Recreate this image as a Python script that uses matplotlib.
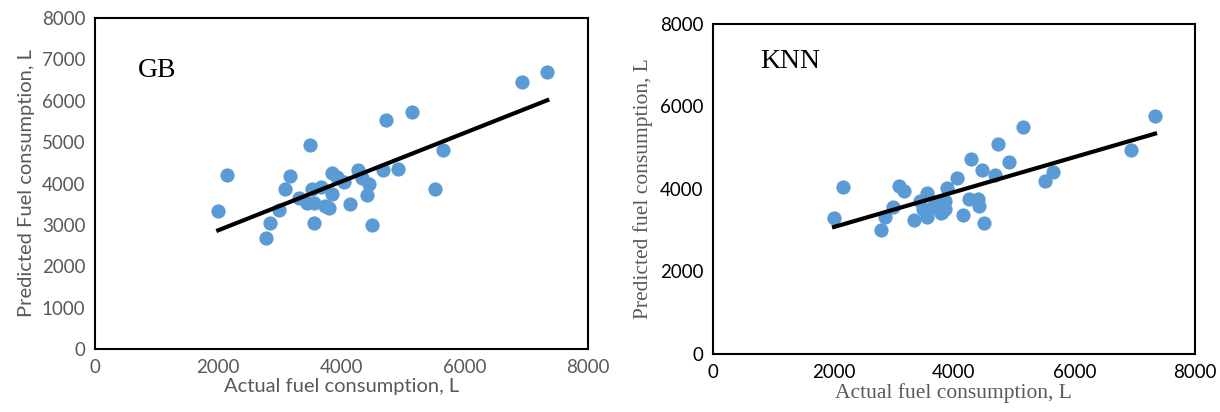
import numpy as np
import matplotlib.pyplot as plt

# Actual vs predicted fuel consumption, L
gb_actual = [2000, 2140, 2780, 2845, 2980, 3090, 3160, 3310, 3440, 3490, 3520,
             3550, 3560, 3670, 3730, 3800, 3840, 3845, 3920, 4045, 4140, 4270,
             4325, 4410, 4450, 4500, 4680, 4720, 4910, 5145, 5515, 5640, 6935, 7340]
gb_pred = [3340, 4200, 2690, 3050, 3360, 3860, 4180, 3640, 3520, 4930, 3880,
           3520, 3050, 3920, 3450, 3400, 3750, 4260, 4160, 4035, 3505, 4320,
           4140, 3720, 4000, 2990, 4330, 5530, 4340, 5740, 3860, 4800, 6460, 6700]

knn_actual = [2010, 2160, 2790, 2850, 2985, 3095, 3175, 3330, 3440, 3480, 3550,
              3560, 3650, 3690, 3785, 3800, 3855, 3860, 3880, 4050, 4150, 4255,
              4285, 4400, 4415, 4460, 4505, 4675, 4724, 4915, 5145, 5518, 5640,
              6943, 7339]
knn_pred = [3285, 4035, 3006, 3329, 3556, 4060, 3945, 3255, 3710, 3505, 3911,
            3310, 3570, 3693, 3420, 3450, 3700, 3520, 4016, 4265, 3370, 3755,
            4715, 3755, 3590, 4470, 3168, 4330, 5091, 4663, 5511, 4202, 4400,
            4945, 5770]

dot_color = '#5B9BD5'
grey = '#595959'

fig = plt.figure(figsize=(12.2, 4.12), dpi=100)


def draw_panel(ax, x, y, name, gb_style, name_pos):
    x = np.array(x)
    y = np.array(y)
    ax.scatter(x, y, s=105, color=dot_color, zorder=2, linewidths=0)
    # linear trendline
    k, b = np.polyfit(x, y, 1)
    xs = np.array([x.min(), x.max()])
    ax.plot(xs, k * xs + b, color='black', linewidth=3, zorder=3)
    ax.set_xlim(0, 8000)
    ax.set_ylim(0, 8000)
    ax.set_xticks(np.arange(0, 8001, 2000))
    if gb_style:
        ax.set_yticks(np.arange(0, 8001, 1000))
        tick_col = grey
        lab_font = dict(family='Lato', color=grey, fontsize=14.5)
        ylab = 'Predicted Fuel consumption, L'
    else:
        ax.set_yticks(np.arange(0, 8001, 2000))
        tick_col = 'black'
        lab_font = dict(family='Liberation Serif', color=grey, fontsize=15.5)
        ylab = 'Predicted fuel consumption, L'
    ax.tick_params(length=0, labelsize=13.5, colors=tick_col, pad=7)
    for t in ax.get_xticklabels() + ax.get_yticklabels():
        t.set_family('Lato')
    ax.set_xlabel('Actual fuel consumption, L', labelpad=2, **lab_font)
    ax.set_ylabel(ylab, labelpad=5, **lab_font)
    for sp in ax.spines.values():
        sp.set_linewidth(1.5)
        sp.set_color('black')
    ax.text(name_pos[0], name_pos[1], name, transform=ax.transAxes,
            family='Liberation Serif', fontsize=20, color='black', va='center')


ax1 = fig.add_axes([0.0779, 0.153, 0.404, 0.803])
draw_panel(ax1, gb_actual, gb_pred, 'GB', True, (0.087, 0.843))

ax2 = fig.add_axes([0.5844, 0.141, 0.395, 0.801])
draw_panel(ax2, knn_actual, knn_pred, 'KNN', False, (0.097, 0.885))

fig.savefig('out.png', dpi=100)
